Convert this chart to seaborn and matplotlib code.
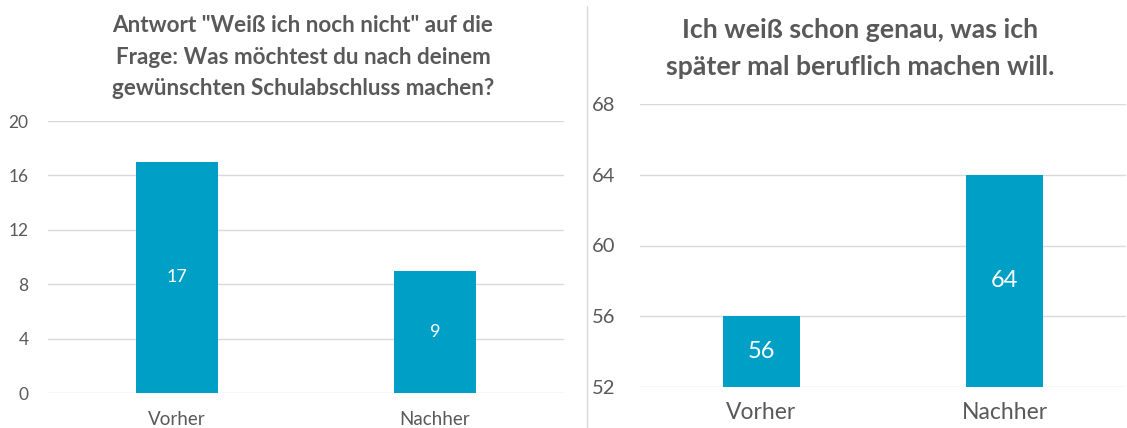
import matplotlib
matplotlib.use("Agg")
import matplotlib.pyplot as plt
import seaborn as sns
import pandas as pd

categories = ["Vorher", "Nachher"]
left_values = [17, 9]
right_values = [56, 64]
left_title = 'Antwort "Weiß ich noch nicht" auf die\nFrage: Was möchtest du nach deinem\ngewünschten Schulabschluss machen?'
right_title = "Ich weiß schon genau, was ich\nspäter mal beruflich machen will."
left_ticks = [0, 4, 8, 12, 16, 20]
right_ticks = [52, 56, 60, 64, 68]

sns.set_style("white")
plt.rcParams["font.family"] = ["Lato", "DejaVu Sans"]

BAR = "#00A0C6"
TXT = "#595959"
GRID = "#D9D9D9"

W, H = 1127, 428
fig = plt.figure(figsize=(W / 100, H / 100), dpi=100)


def px_axes(x0, x1, ytop, ybot):
    return fig.add_axes([x0 / W, (H - ybot) / H, (x1 - x0) / W, (ybot - ytop) / H])


def style(ax, ticks, lim, tsize, xsize, tpad, xpad, vals, vsize, bw):
    df = pd.DataFrame({"cat": categories, "val": vals})
    sns.barplot(data=df, x="cat", y="val", ax=ax, color=BAR, width=bw,
                saturation=1, linewidth=0, edgecolor=BAR, zorder=3)
    ax.set_ylim(*lim)
    ax.set_xlim(-0.5, 1.5)
    ax.set_yticks(ticks)
    ax.yaxis.grid(True, color=GRID, linewidth=1.0, zorder=0)
    ax.set_axisbelow(True)
    for s in ax.spines.values():
        s.set_visible(False)
    ax.tick_params(axis="y", length=0, labelsize=tsize, labelcolor=TXT, pad=tpad)
    ax.tick_params(axis="x", length=0, labelsize=xsize, labelcolor=TXT, pad=xpad)
    ax.set_xlabel("")
    ax.set_ylabel("")
    for i, v in enumerate(vals):
        ax.text(i, (lim[0] + v) / 2, str(v), ha="center", va="center",
                color="white", fontsize=vsize, zorder=5)


axL = px_axes(48, 564, 121, 393)
style(axL, left_ticks, (0, 20), 12.5, 13.5, 14, 13, left_values, 13, 0.315)

axR = px_axes(640, 1126, 104, 387)
style(axR, right_ticks, (52, 68), 14.5, 16.5, 18, 11, right_values, 17, 0.315)

fig.text(303 / W, 1 - 15 / H, left_title, ha="center", va="top", fontsize=16.2,
         fontweight="bold", color=TXT, linespacing=1.62)
fig.text(860 / W, 1 - 18 / H, right_title, ha="center", va="top", fontsize=19.2,
         fontweight="bold", color=TXT, linespacing=1.65)

fig.add_artist(plt.Line2D([587 / W, 587 / W], [0, 1 - 6 / H], color=GRID,
                          linewidth=1.0, transform=fig.transFigure))

fig.savefig("out.png", dpi=100, facecolor="white")
